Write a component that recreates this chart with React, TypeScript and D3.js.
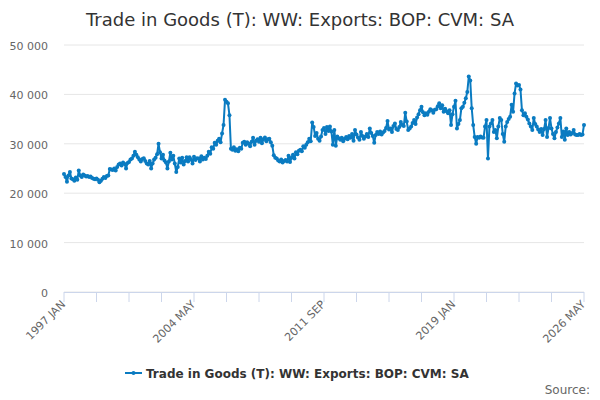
import React from 'react';
import * as d3 from 'd3';

// Monthly values, £ million
const exports1997to2001 = [
  23900, 23300, 22300, 23600, 24300, 23000, 22800, 22500, 23200, 22700, 24600, 23600,
  23300, 23800, 23600, 23400, 23500, 23300, 23400, 23100, 22900, 22800, 23000, 22700,
  22200, 22500, 22900, 23300, 23100, 23500, 23600, 24900, 24800, 24700, 25000, 24600,
  25300, 25800, 26000, 25600, 26200, 25900, 25000, 26100, 26300, 26800, 27000, 27600,
  28400, 27800, 27300, 26800, 26400, 26900, 27100, 26500, 26000, 25800, 26500, 25000,
];
const exports2002to2006 = [
  26000, 26800, 27200, 27900, 30000, 28300, 27000, 27800, 26600, 26200, 25000, 26400,
  28200, 26800, 27600, 26000, 24300, 25300, 27000, 26200, 27200, 25800, 26500, 27300,
  26400, 27300, 26800, 26000, 27400, 26700, 27100, 27000, 26400, 27500, 26800, 27200,
  26900, 27600, 28400, 28000, 29300, 29000, 30200, 29800, 30600, 31000, 30300, 32100,
  33800, 38900, 38500, 38200, 35800, 29000, 28800, 29300, 28600, 28900, 28500, 29200,
];
const exports2007to2011 = [
  29000, 30200, 30400, 29800, 30300, 30000, 29500, 30400, 31200, 29800, 30600, 30900,
  30400, 31200, 30100, 30900, 31300, 30500, 30900, 31000, 30300, 29600, 27700, 27200,
  27000, 26600, 26400, 26800, 26200, 26500, 26700, 26400, 27600, 26300, 27200, 27800,
  27000, 28300, 27900, 28600, 28800, 28500, 29500, 29200, 29800, 30300, 31000, 30500,
  34300, 33400, 31600, 32200, 31000, 30600, 31500, 32800, 33200, 32000, 33400, 32600,
];
const exports2012to2016 = [
  33500, 32500, 29800, 32800, 29600, 31500, 31100, 30800, 31200, 30500, 31000, 31400,
  30900, 31600, 31200, 32000, 30600, 32800, 31900, 31300, 30800, 32400, 31600, 31000,
  31500, 32000, 31400, 33100, 32200, 31600, 30200, 31800, 32400, 32000, 32500, 31900,
  32300, 32600, 33200, 34600, 32900, 33100, 32400, 33600, 34100, 33000, 32800, 33400,
  34400, 33800, 33600, 36300, 34500, 32800, 33100, 33500, 34200, 34800, 34000, 35300,
];
const exports2017to2021 = [
  36000, 36800, 37500, 36400, 35800, 36200, 35900, 36500, 37000, 36800, 36300, 36900,
  37000, 37600, 38200, 37200, 37800, 36500, 37100, 36600, 36200, 36800, 33800, 36000,
  37500, 38700, 33100, 34000, 34800, 37200, 37500, 38300, 39200, 40500, 43600, 42800,
  37200, 33800, 31400, 30000, 31400, 31200, 31500, 31300, 31200, 33500, 34800, 27000,
  33500, 34100, 34800, 32400, 32800, 31100, 33500, 35200, 34800, 32000, 30400, 33500,
];
const exports2022to2026 = [
  34400, 35000, 35500, 37900, 36500, 40200, 42200, 41800, 41900, 41000, 36800, 35800,
  36200, 35500, 34900, 34100, 33500, 32800, 35200, 34000, 33500, 32900, 32400, 33000,
  31800, 33000, 34800, 31400, 33200, 35200, 33100, 32000, 31100, 32400, 33300, 34100,
  35200, 31400, 32500, 30800, 33100, 31800, 32400, 31900, 32200, 32800, 31900, 31800,
  31800, 32000, 31800, 31900, 33800,
];

const values = [
  ...exports1997to2001,
  ...exports2002to2006,
  ...exports2007to2011,
  ...exports2012to2016,
  ...exports2017to2021,
  ...exports2022to2026,
];

const MONTHS = ['JAN', 'FEB', 'MAR', 'APR', 'MAY', 'JUN', 'JUL', 'AUG', 'SEP', 'OCT', 'NOV', 'DEC'];
const START_YEAR = 1997;
const categories = values.map((_, i) => `${START_YEAR + Math.floor(i / 12)} ${MONTHS[i % 12]}`);

const yTicks = [0, 10000, 20000, 30000, 40000, 50000];
const TICK_EVERY = 22;
const LABEL_EVERY = 88;

const TITLE = 'Trade in Goods (T): WW: Exports: BOP: CVM: SA';
const LINE_COLOR = '#0a7bc1';
const FONT = '"DejaVu Sans", sans-serif';

export default function App() {
  const width = 600;
  const height = 400;
  const margin = { top: 45, right: 16, bottom: 108, left: 64 };
  const plotBottom = height - margin.bottom;

  const xScale = d3
    .scalePoint<string>()
    .domain(categories)
    .range([margin.left, width - margin.right]);

  const yScale = d3.scaleLinear().domain([0, 50000]).range([plotBottom, margin.top]);

  const line = d3
    .line<number>()
    .x((_, i) => xScale(categories[i])!)
    .y(d => yScale(d));

  const fmt = (v: number) => d3.format(',')(v).replace(/,/g, ' ');

  const tickCats = categories.filter((_, i) => i % TICK_EVERY === 0);
  const labelCats = categories.filter((_, i) => i % LABEL_EVERY === 0);

  return (
    <svg
      width={width}
      height={height}
      style={{ position: 'absolute', left: 0, top: 0, fontFamily: FONT, background: '#fff' }}
    >
      <rect width={width} height={height} fill="#fff" />

      {/* title */}
      <text x={width / 2} y={26} textAnchor="middle" fontSize={18} fill="#333">
        {TITLE}
      </text>

      {/* grid + y labels */}
      {yTicks.map(t => (
        <g key={t}>
          <line
            x1={margin.left}
            x2={width - margin.right}
            y1={yScale(t)}
            y2={yScale(t)}
            stroke="#e6e6e6"
            strokeWidth={1}
          />
          <text x={48} y={yScale(t) + 5} textAnchor="end" fontSize={11} fill="#666">
            {fmt(t)}
          </text>
        </g>
      ))}

      {/* x axis */}
      <line
        x1={margin.left}
        x2={width - margin.right}
        y1={plotBottom + 0.5}
        y2={plotBottom + 0.5}
        stroke="#ccd6eb"
      />
      {tickCats.map(c => (
        <line
          key={c}
          x1={xScale(c)!}
          x2={xScale(c)!}
          y1={plotBottom}
          y2={plotBottom + 10}
          stroke="#ccd6eb"
        />
      ))}
      {labelCats.map(c => {
        const x = xScale(c)! + 2;
        const y = plotBottom + 13;
        return (
          <text
            key={c}
            x={x}
            y={y}
            textAnchor="end"
            fontSize={11}
            fill="#666"
            transform={`rotate(-45 ${x} ${y})`}
          >
            {c}
          </text>
        );
      })}

      {/* series */}
      <path d={line(values) || ''} fill="none" stroke={LINE_COLOR} strokeWidth={2} strokeLinejoin="round" />
      {values.map((v, i) => (
        <circle key={i} cx={xScale(categories[i])!} cy={yScale(v)} r={2} fill={LINE_COLOR} />
      ))}

      {/* legend */}
      <line x1={125} x2={142} y1={373} y2={373} stroke={LINE_COLOR} strokeWidth={2} />
      <circle cx={133.5} cy={373} r={2} fill={LINE_COLOR} />
      <text x={146} y={377.5} fontSize={12} fontWeight="bold" fill="#333">
        {TITLE}
      </text>

      {/* credits */}
      <text x={590} y={394} textAnchor="end" fontSize={12} fill="#666">
        Source:
      </text>
    </svg>
  );
}
